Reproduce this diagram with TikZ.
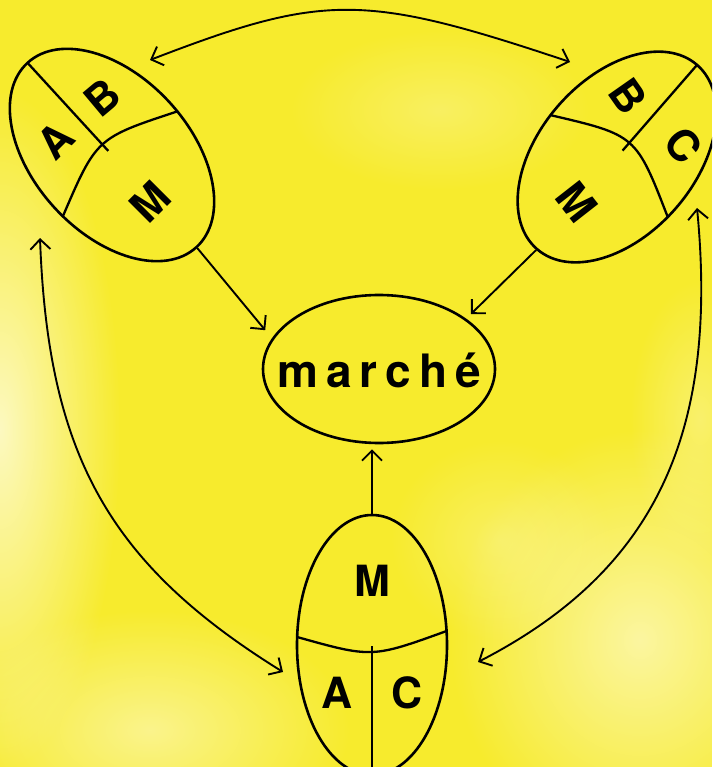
\documentclass[tikz,border=0pt]{standalone}
\usepackage{fontspec}
\setmainfont{TeX Gyre Heros}
\usetikzlibrary{arrows.meta,shapes.geometric,fadings}
\tikzfading[name=softblob, inner color=transparent!0, outer color=transparent!100]
\definecolor{bgyellow}{RGB}{247,235,45}
\begin{document}
\begin{tikzpicture}[x=1pt,y=1pt,
  oval/.style={ellipse, draw, line width=2.6pt, inner sep=0pt},
  letter/.style={font=\fontsize{43}{43}\selectfont\bfseries, inner sep=0pt},
  divider/.style={line width=2.3pt},
  link/.style={line width=1.9pt, -{Straight Barb[length=10pt,width=20pt]}},
  both/.style={line width=1.9pt, {Straight Barb[length=10pt,width=20pt]}-{Straight Barb[length=10pt,width=20pt]}}]
\useasboundingbox (0,0) rectangle (712,-767);
\clip (0,0) rectangle (712,-767);
% background
\fill[bgyellow] (0,0) rectangle (712,-767);
\fill[white, path fading=softblob, opacity=.7] (0,-430) ellipse [x radius=120, y radius=340];
\fill[white, path fading=softblob, opacity=.55] (640,-640) ellipse [x radius=190, y radius=210];
\fill[white, path fading=softblob, opacity=.45] (150,-730) ellipse [x radius=200, y radius=120];
\fill[white, path fading=softblob, opacity=.25] (440,-110) ellipse [x radius=150, y radius=80];
\fill[white, path fading=softblob, opacity=.3] (700,-420) ellipse [x radius=70, y radius=140];
\fill[white, path fading=softblob, opacity=.25] (500,-540) ellipse [x radius=110, y radius=100];

% ovals
\node[oval, minimum width=250, minimum height=156, rotate=-47.5] (tl) at (112,-155) {};
\node[oval, minimum width=244, minimum height=156, rotate=49] (tr) at (617,-157) {};
\node[oval, minimum width=150, minimum height=260] (b) at (372,-645) {};
\node[oval, minimum width=232, minimum height=148] (m) at (379,-369)
  {\smash{\raisebox{-18pt}{\makebox[0pt]{\fontsize{46}{46}\selectfont\bfseries m\kern8pt a\kern8pt r\kern8pt c\kern8pt h\kern8pt é}}}};

% dividers
\begin{scope}[shift={(tl.center)}, rotate=-47.5]
  \draw[divider] (12,-77.6) .. controls (-23,0) .. (12,77.6);
  \draw[divider] (-5.5,0) -- (-125,0);
\end{scope}
\begin{scope}[shift={(tr.center)}, rotate=49]
  \draw[divider] (-12,-77.6) .. controls (29,0) .. (-12,77.6);
  \draw[divider] (8.5,0) -- (122,0);
\end{scope}
\begin{scope}[shift={(b.center)}]
  \draw[divider] (-74.9,8) .. controls (0,-13) .. (74.6,14);
  \draw[divider] (0,-1) -- (b.south);
\end{scope}

% letters
\node[letter, rotate=45] (tlA) at (55,-140) {A};
\node[letter, rotate=40] (tlB) at (102,-98) {B};
\node[letter, rotate=45] (tlM) at (150,-202) {M};
\node[letter, rotate=-55] (trB) at (628,-96) {B};
\node[letter, rotate=-50] (trC) at (683,-145) {C};
\node[letter, rotate=-52] (trM) at (577,-202) {M};
\node[letter] (bM) at (372,-581) {M};
\node[letter] (bA) at (337,-693) {A};
\node[letter] (bC) at (407,-693) {C};

% connectors to the market
\draw[link, shorten >=10.5pt] (tl.east) -- (m.164);
\draw[link, shorten >=6.5pt] (tr.west) -- (m.30);
\draw[link, shorten >=5pt] (b.north) -- (b.north |- m.south);

% double arrows between ovals
\draw[both] ([shift={(38,95)}]tl.center) .. controls +(174,67) and +(-206,69) .. ([shift={(-47,95)}]tr.center);
\draw[both] ([shift={(-72,-83)}]tl.center) .. controls +(8,-217) and +(-174,108) .. ([shift={(-89,-27)}]b.center);
\draw[both] ([shift={(80,-51)}]tr.center) .. controls +(22,-228) and +(175,90) .. ([shift={(106,-17)}]b.center);
\end{tikzpicture}
\end{document}
